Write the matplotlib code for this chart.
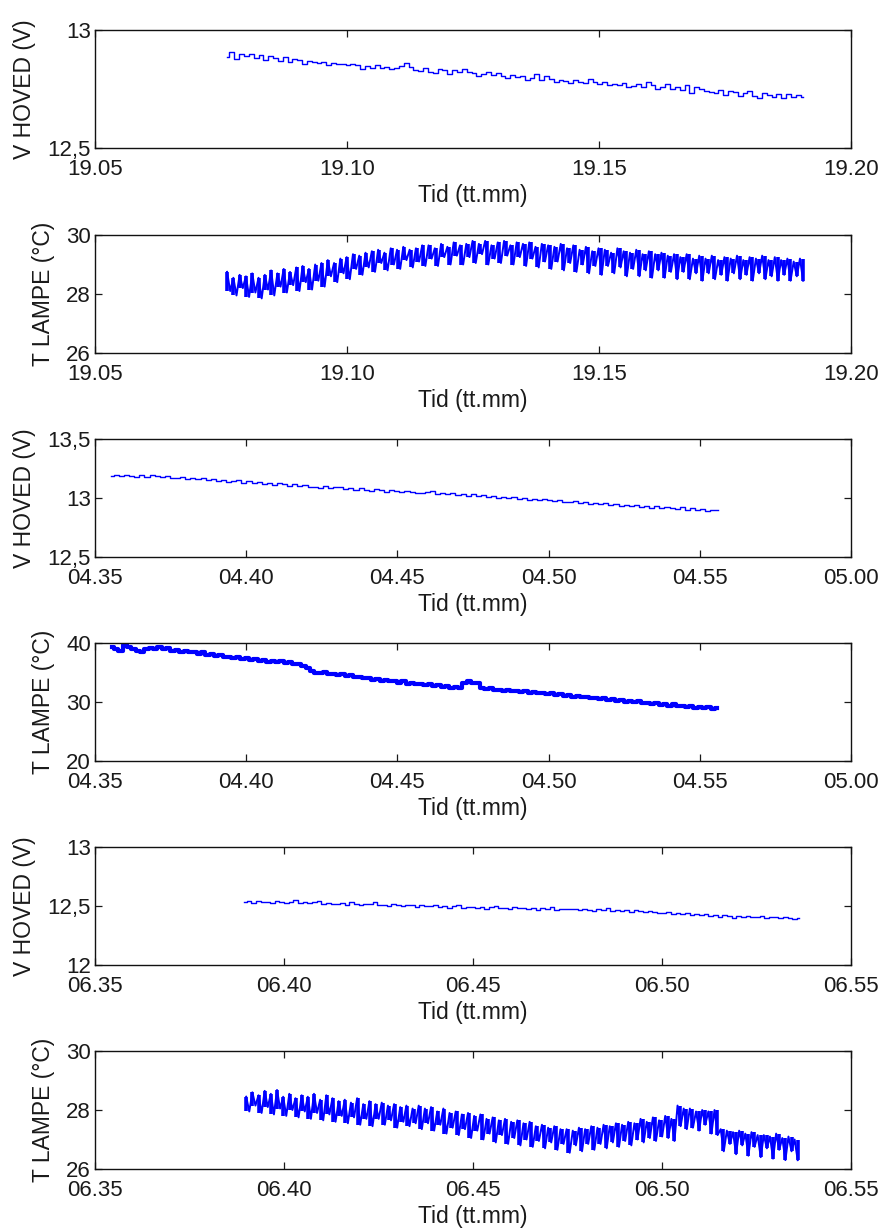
import numpy as np
import matplotlib
matplotlib.use('Agg')
import matplotlib.pyplot as plt

plt.rcParams['font.family'] = ['Liberation Sans', 'DejaVu Sans']

# ---------------- labels ----------------
x_label = 'Tid (tt.mm)'
v_label = 'V HOVED (V)'
t_label = 'T LAMPE (°C)'

# x axes are in minutes after the first tick; tick labels are clock times
xticks_19 = [0, 5, 10, 15]
xlabels_19 = ['19.05', '19.10', '19.15', '19.20']
xticks_04 = [0, 5, 10, 15, 20, 25]
xlabels_04 = ['04.35', '04.40', '04.45', '04.50', '04.55', '05.00']
xticks_06 = [0, 5, 10, 15, 20]
xlabels_06 = ['06.35', '06.40', '06.45', '06.50', '06.55']

yticks_v1 = [12.5, 13.0]
ylabels_v1 = ['12,5', '13']
yticks_t1 = [26, 28, 30]
ylabels_t1 = ['26', '28', '30']
yticks_v2 = [12.5, 13.0, 13.5]
ylabels_v2 = ['12,5', '13', '13,5']
yticks_t2 = [20, 30, 40]
ylabels_t2 = ['20', '30', '40']
yticks_v3 = [12.0, 12.5, 13.0]
ylabels_v3 = ['12', '12,5', '13']
yticks_t3 = [26, 28, 30]
ylabels_t3 = ['26', '28', '30']

# ---------------- session 1 (19.05 - 19.20) ----------------
t_start_1, t_end_1 = 2.62, 14.05
volt_1 = [
    12.885, 12.905, 12.878, 12.897, 12.890, 12.899, 12.882, 12.893, 12.871, 12.888,
    12.880, 12.869, 12.884, 12.866, 12.877, 12.872, 12.858, 12.870, 12.866, 12.861,
    12.866, 12.851, 12.860, 12.855, 12.857, 12.853, 12.858, 12.852, 12.833, 12.846,
    12.840, 12.850, 12.838, 12.845, 12.834, 12.838, 12.848, 12.860, 12.845, 12.831,
    12.825, 12.838, 12.822, 12.817, 12.835, 12.829, 12.812, 12.830, 12.824, 12.836,
    12.822, 12.817, 12.803, 12.815, 12.822, 12.810, 12.819, 12.807, 12.795, 12.810,
    12.801, 12.806, 12.790, 12.797, 12.812, 12.788, 12.803, 12.793, 12.780, 12.789,
    12.786, 12.777, 12.789, 12.780, 12.775, 12.794, 12.781, 12.771, 12.778, 12.766,
    12.772, 12.768, 12.776, 12.760, 12.764, 12.771, 12.757, 12.780, 12.766, 12.752,
    12.760, 12.773, 12.748, 12.757, 12.744, 12.766, 12.735, 12.758, 12.749, 12.743,
    12.738, 12.732, 12.745, 12.724, 12.740, 12.736, 12.719, 12.733, 12.742, 12.722,
    12.710, 12.733, 12.726, 12.718, 12.727, 12.712, 12.729, 12.716, 12.724, 12.718,
]
# lamp temperature: tops and bottoms of the fast oscillation
temp_1_hi = [
    28.75, 28.55, 28.65, 28.60, 28.70, 28.55, 28.65, 28.80, 28.70, 28.85, 28.75, 28.90,
    28.95, 28.85, 29.00, 29.05, 29.15, 29.05, 29.20, 29.25, 29.35, 29.30, 29.40, 29.45,
    29.50, 29.40, 29.55, 29.50, 29.60, 29.50, 29.55, 29.65, 29.65, 29.55, 29.70, 29.60,
    29.75, 29.65, 29.70, 29.80, 29.70, 29.80, 29.65, 29.75, 29.80, 29.65, 29.75, 29.70,
    29.75, 29.60, 29.70, 29.65, 29.60, 29.70, 29.55, 29.65, 29.50, 29.60, 29.45, 29.55,
    29.50, 29.40, 29.55, 29.45, 29.40, 29.50, 29.35, 29.45, 29.35, 29.40, 29.30, 29.35,
    29.25, 29.35, 29.20, 29.30, 29.20, 29.30, 29.15, 29.25, 29.20, 29.30, 29.15, 29.25,
    29.20, 29.30, 29.15, 29.25, 29.15, 29.20, 29.10, 29.20,
]
temp_1_lo = [
    28.10, 27.95, 28.20, 27.90, 28.05, 27.85, 28.15, 27.95, 28.25, 28.05, 28.30, 28.10,
    28.40, 28.15, 28.45, 28.25, 28.60, 28.40, 28.70, 28.50, 28.85, 28.65, 28.90, 28.75,
    29.05, 28.80, 29.00, 28.85, 29.15, 28.90, 29.10, 28.95, 29.20, 28.95, 29.25, 29.00,
    29.30, 29.00, 29.25, 29.05, 29.35, 29.00, 29.20, 29.05, 29.30, 29.00, 29.25, 28.95,
    29.20, 28.90, 29.10, 28.85, 29.10, 28.80, 29.05, 28.75, 29.00, 28.70, 28.95, 28.65,
    28.95, 28.70, 28.90, 28.60, 28.85, 28.60, 28.80, 28.55, 28.80, 28.55, 28.75, 28.50,
    28.75, 28.50, 28.70, 28.45, 28.70, 28.50, 28.65, 28.45, 28.70, 28.50, 28.65, 28.45,
    28.70, 28.50, 28.60, 28.45, 28.65, 28.45, 28.60, 28.45,
]

# ---------------- session 2 (04.35 - 05.00) ----------------
t_start_2, t_end_2 = 0.54, 20.6
volt_2 = [
    13.188, 13.197, 13.183, 13.192, 13.186, 13.180, 13.191, 13.178, 13.199, 13.184,
    13.175, 13.188, 13.170, 13.166, 13.181, 13.163, 13.170, 13.158, 13.166, 13.152,
    13.158, 13.143, 13.150, 13.139, 13.146, 13.155, 13.131, 13.142, 13.128, 13.137,
    13.120, 13.128, 13.113, 13.124, 13.118, 13.105, 13.116, 13.100, 13.112, 13.097,
    13.094, 13.086, 13.098, 13.081, 13.089, 13.093, 13.076, 13.085, 13.070, 13.081,
    13.068, 13.060, 13.075, 13.066, 13.052, 13.064, 13.057, 13.049, 13.061, 13.053,
    13.046, 13.039, 13.051, 13.058, 13.036, 13.044, 13.030, 13.041, 13.027, 13.033,
    13.020, 13.030, 13.014, 13.023, 13.008, 13.019, 13.003, 13.012, 12.996, 13.005,
    12.992, 13.000, 12.985, 12.994, 12.979, 12.988, 12.981, 12.972, 12.983, 12.969,
    12.966, 12.975, 12.959, 12.968, 12.952, 12.961, 12.945, 12.956, 12.940, 12.950,
    12.936, 12.944, 12.929, 12.938, 12.925, 12.933, 12.918, 12.928, 12.914, 12.922,
    12.915, 12.906, 12.920, 12.902, 12.912, 12.898, 12.905, 12.890, 12.899, 12.895,
]
t_start_2t, t_end_2t = 0.55, 20.58
temp_2 = [
    39.3, 38.9, 38.7, 39.6, 39.3, 39.0, 38.6, 38.4, 38.9, 39.2,
    39.0, 39.3, 38.9, 39.1, 38.7, 38.8, 38.5, 38.7, 38.4, 38.5,
    38.2, 38.4, 38.0, 38.1, 37.8, 38.0, 37.6, 37.7, 37.4, 37.6,
    37.3, 37.4, 37.1, 37.3, 37.0, 37.2, 36.8, 37.0, 36.7, 36.9,
    36.6, 36.8, 36.4, 36.5, 36.1, 35.8, 35.3, 35.0, 34.9, 35.1,
    34.7, 34.8, 34.5, 34.7, 34.4, 34.5, 34.2, 34.3, 34.0, 34.1,
    33.8, 33.9, 33.6, 33.8, 33.5, 33.6, 33.3, 33.5, 33.1, 33.3,
    33.0, 33.1, 32.8, 33.0, 32.7, 32.8, 32.6, 32.7, 32.4, 32.5,
    32.3, 33.3, 33.5, 33.2, 33.3, 32.4, 32.2, 32.3, 32.0, 32.1,
    31.9, 32.0, 31.8, 31.9, 31.7, 31.8, 31.6, 31.7, 31.5, 31.6,
    31.4, 31.5, 31.2, 31.4, 31.0, 31.2, 30.9, 31.0, 30.8, 30.9,
    30.6, 30.7, 30.5, 30.6, 30.3, 30.5, 30.2, 30.3, 30.0, 30.2,
    30.0, 30.1, 29.8, 29.9, 29.7, 29.8, 29.5, 29.7, 29.4, 29.6,
    29.3, 29.4, 29.2, 29.3, 29.0, 29.2, 28.9, 29.1, 28.8, 28.9,
]

# ---------------- session 3 (06.35 - 06.55) ----------------
t_start_3, t_end_3 = 3.95, 18.63
volt_3 = [
    12.530, 12.541, 12.528, 12.545, 12.533, 12.538, 12.526, 12.543, 12.531, 12.524,
    12.533, 12.548, 12.528, 12.536, 12.522, 12.531, 12.540, 12.519, 12.527, 12.521,
    12.519, 12.528, 12.512, 12.530, 12.516, 12.508, 12.521, 12.513, 12.534, 12.506,
    12.510, 12.503, 12.516, 12.507, 12.499, 12.512, 12.505, 12.493, 12.509, 12.501,
    12.498, 12.505, 12.491, 12.502, 12.487, 12.499, 12.510, 12.484, 12.495, 12.489,
    12.487, 12.494, 12.478, 12.488, 12.497, 12.481, 12.486, 12.475, 12.490, 12.482,
    12.480, 12.473, 12.486, 12.466, 12.481, 12.476, 12.490, 12.470, 12.478, 12.472,
    12.471, 12.478, 12.463, 12.475, 12.468, 12.459, 12.472, 12.466, 12.481, 12.461,
    12.464, 12.457, 12.470, 12.452, 12.462, 12.455, 12.446, 12.458, 12.448, 12.443,
    12.440, 12.448, 12.433, 12.444, 12.428, 12.439, 12.425, 12.434, 12.420, 12.429,
    12.417, 12.425, 12.410, 12.421, 12.414, 12.402, 12.416, 12.408, 12.419, 12.405,
    12.406, 12.413, 12.398, 12.410, 12.403, 12.396, 12.408, 12.401, 12.393, 12.402,
]
t_start_3t, t_end_3t = 4.0, 18.59
temp_3_hi = [
    28.45, 28.60, 28.50, 28.65, 28.55, 28.68, 28.45, 28.55, 28.40, 28.50,
    28.45, 28.55, 28.35, 28.50, 28.40, 28.30, 28.35, 28.25, 28.40, 28.20,
    28.30, 28.20, 28.25, 28.15, 28.20, 28.10, 28.15, 28.05, 28.15, 28.05,
    28.10, 27.95, 28.05, 27.90, 27.95, 27.85, 27.90, 27.80, 27.85, 27.70,
    27.75, 27.65, 27.70, 27.60, 27.65, 27.55, 27.60, 27.45, 27.50, 27.40,
    27.45, 27.35, 27.35, 27.30, 27.40, 27.35, 27.45, 27.40, 27.50, 27.45,
    27.55, 27.50, 27.60, 27.55, 27.70, 27.60, 27.75, 27.65, 27.80, 27.70,
    28.15, 28.05, 28.05, 27.95, 28.00, 27.95, 28.00, 27.35, 27.30, 27.25,
    27.30, 27.20, 27.25, 27.15, 27.15, 27.10, 27.20, 27.05, 27.10, 27.00,
]
temp_3_lo = [
    27.95, 28.15, 27.90, 28.10, 27.85, 28.05, 27.80, 28.00, 27.75, 27.95,
    27.70, 27.90, 27.65, 27.85, 27.60, 27.80, 27.55, 27.75, 27.50, 27.70,
    27.45, 27.70, 27.50, 27.65, 27.40, 27.60, 27.45, 27.55, 27.35, 27.55,
    27.30, 27.50, 27.20, 27.40, 27.15, 27.35, 27.05, 27.30, 27.00, 27.20,
    26.90, 27.15, 26.85, 27.05, 26.80, 27.00, 26.75, 26.95, 26.70, 26.90,
    26.65, 26.85, 26.55, 26.80, 26.60, 26.85, 26.65, 26.85, 26.70, 26.90,
    26.75, 26.95, 26.80, 27.00, 26.90, 27.05, 26.95, 27.10, 27.05, 26.95,
    27.45, 27.35, 27.40, 27.30, 27.50, 27.20, 27.15, 26.60, 26.85, 26.50,
    26.80, 26.45, 26.75, 26.40, 26.70, 26.35, 26.65, 26.30, 26.60, 26.30,
]

# ---------------- drawing ----------------
W, H = 881, 1228
fig = plt.figure(figsize=(W / 100, H / 100), dpi=100)
fig.patch.set_facecolor('white')

ax_left, ax_right, ax_h = 95, 851, 118
tops = [30, 235, 439, 643, 847, 1051]
text_col = '#1a1a1a'
blue = '#0000ff'


def make_axes(top, xlim, xt, xl, ylim, yt, yl, ylabel):
    ax = fig.add_axes([ax_left / W, 1 - (top + ax_h) / H,
                       (ax_right - ax_left) / W, ax_h / H])
    ax.set_xlim(*xlim)
    ax.set_ylim(*ylim)
    ax.set_xticks(xt)
    ax.set_xticklabels(xl)
    ax.set_yticks(yt)
    ax.set_yticklabels(yl)
    ax.tick_params(direction='in', length=5, width=0.9, top=True, right=True,
                   labelsize=16, colors=text_col)
    ax.tick_params(axis='x', pad=8)
    ax.tick_params(axis='y', pad=3)
    for s in ax.spines.values():
        s.set_linewidth(1.0)
        s.set_color('#111111')
    ax.set_xlabel(x_label, fontsize=16.5, color=text_col, labelpad=3)
    ax.set_ylabel(ylabel, fontsize=16.5, color=text_col, labelpad=8)
    return ax


def draw_oscillation(ax, t0, t1, hi, lo):
    x = np.linspace(t0, t1, len(hi))
    ax.vlines(x, lo, hi, color=blue, lw=2.6)
    xs = np.linspace(t0, t1, 2 * len(hi))
    ys = np.column_stack([hi, lo]).ravel()
    ax.plot(xs, ys, color=blue, lw=1.4)


def draw_noisy(ax, t0, t1, y, lw):
    x = np.linspace(t0, t1, len(y))
    ax.plot(x, y, color=blue, lw=lw, drawstyle='steps-mid')


# panel 1
ax = make_axes(tops[0], (0, 15), xticks_19, xlabels_19, (12.5, 13.0),
               yticks_v1, ylabels_v1, v_label)
draw_noisy(ax, t_start_1, t_end_1, volt_1, 1.0)

# panel 2
ax = make_axes(tops[1], (0, 15), xticks_19, xlabels_19, (26, 30),
               yticks_t1, ylabels_t1, t_label)
draw_oscillation(ax, t_start_1, t_end_1, temp_1_hi, temp_1_lo)

# panel 3
ax = make_axes(tops[2], (0, 25), xticks_04, xlabels_04, (12.5, 13.5),
               yticks_v2, ylabels_v2, v_label)
draw_noisy(ax, t_start_2, t_end_2, volt_2, 1.0)

# panel 4
ax = make_axes(tops[3], (0, 25), xticks_04, xlabels_04, (20, 40),
               yticks_t2, ylabels_t2, t_label)
draw_noisy(ax, t_start_2t, t_end_2t, temp_2, 3.0)

# panel 5
ax = make_axes(tops[4], (0, 20), xticks_06, xlabels_06, (12.0, 13.0),
               yticks_v3, ylabels_v3, v_label)
draw_noisy(ax, t_start_3, t_end_3, volt_3, 1.0)

# panel 6
ax = make_axes(tops[5], (0, 20), xticks_06, xlabels_06, (26, 30),
               yticks_t3, ylabels_t3, t_label)
draw_oscillation(ax, t_start_3t, t_end_3t, temp_3_hi, temp_3_lo)

fig.savefig('out.png', dpi=100, facecolor='white')
